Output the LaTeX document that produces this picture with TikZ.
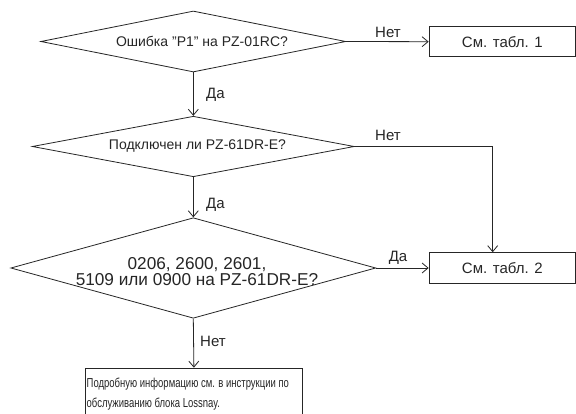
\documentclass[tikz,border=0pt]{standalone}
\usepackage{fontspec}
\setmainfont{Liberation Sans}
\newfontfamily\narrowfont[FakeStretch=0.73]{Liberation Sans}
\usetikzlibrary{shapes.geometric,arrows.meta}
\definecolor{ink}{HTML}{262626}
\begin{document}
\begin{tikzpicture}[x=1pt,y=-1pt,
  txt/.style={text=ink, inner sep=0pt, font=\fontsize{14}{17}\selectfont},
  lbl/.style={text=ink, inner sep=0pt, font=\fontsize{15}{18}\selectfont},
  dia/.style={draw=ink, line width=0.8pt, shape=diamond, inner sep=0pt},
  box/.style={draw=ink, line width=0.8pt, shape=rectangle, inner sep=0pt, text=ink, font=\fontsize{15}{18}\selectfont},
  arr/.style={draw=ink, line width=0.8pt, -{Straight Barb[length=6pt,width=10pt]}}]
\useasboundingbox (0,0) rectangle (576,414);
\fill[white] (0,0) rectangle (576,414);
% decisions
\node[dia, minimum width=305pt, minimum height=61pt] (d1) at (193.3,41.5) {};
\node[txt] (t1) at (202,41.5) {Ошибка \char34P1\char34{} на PZ-01RC?};
\node[dia, minimum width=322pt, minimum height=60.5pt] (d2) at (193.3,146.5) {};
\node[txt] (t2) at (197.5,146.5) {Подключен ли PZ-61DR-E?};
\node[dia, minimum width=365pt, minimum height=100.5pt] (d3) at (193.3,268) {};
\node[txt, align=center, font=\fontsize{17.2}{16.5}\selectfont] (t3) at (197,271.5) {0206, 2600, 2601,\\5109 или 0900 на PZ-61DR-E?};
% boxes
\node[box, minimum width=146.5pt, minimum height=30pt] (b1) at (502.3,41.7) {См. табл. 1};
\node[box, minimum width=146.5pt, minimum height=30.7pt] (b2) at (502.3,268) {См. табл. 2};
\node[box, anchor=north west, minimum width=217pt, minimum height=52pt] (b3) at (85,367.7) {};
\node[text=ink, inner sep=0pt, anchor=base west, align=left, font=\narrowfont\fontsize{13}{20}\selectfont] (t4) at (86.5,407.7) {Подробную информацию см. в инструкции по\\обслуживанию блока Lossnay.};
% connectors
\draw[arr] (d1.east) -- (b1.west);
\draw[arr] (d1.south) -- (d2.north);
\draw[arr] (d2.south) -- (d3.north);
\draw[arr] (d2.east) -| ([xshift=-9.6pt]b2.north);
\draw[arr] (d3.east) -- (b2.west);
\draw[arr] (d3.south) -- (b3.north);
% labels
\node[lbl] (n1) at (388,32) {Нет};
\node[lbl, anchor=west] (y1) at (206,95) {Да};
\node[lbl] (n2) at (388,135) {Нет};
\node[lbl, anchor=west] (y2) at (206,205) {Да};
\node[lbl] (y3) at (398,258) {Да};
\node[lbl, anchor=west] (n3) at (200,341.7) {Нет};
\end{tikzpicture}
\end{document}
